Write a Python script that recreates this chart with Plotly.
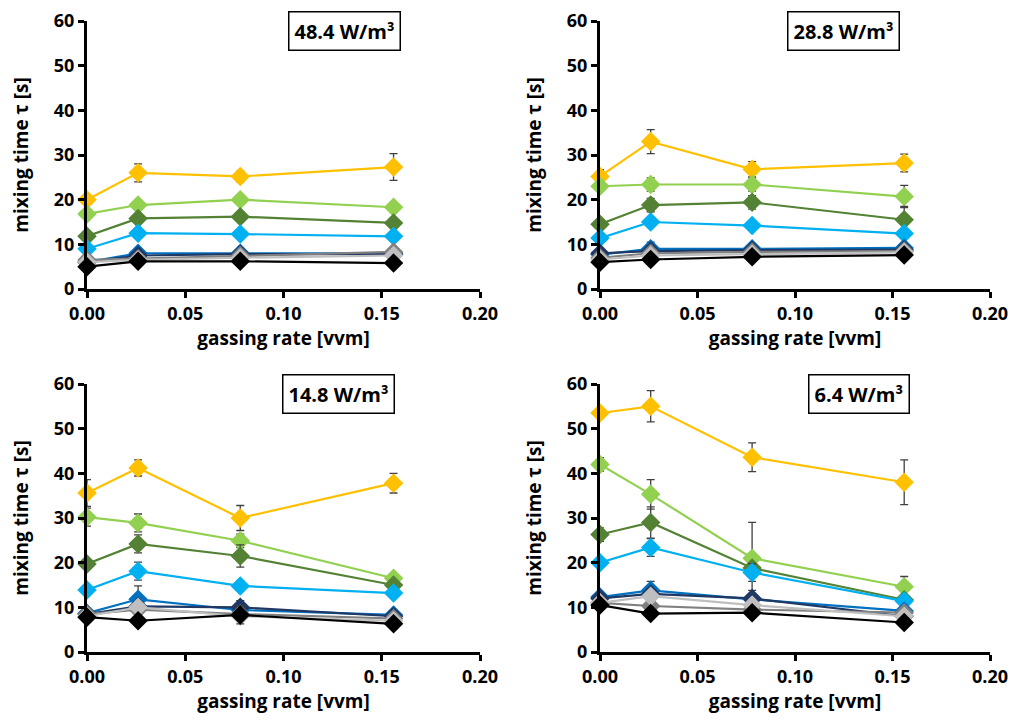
import plotly.graph_objects as go

gas = [0.0, 0.026, 0.078, 0.156]
x_ticks = [0.00, 0.05, 0.10, 0.15, 0.20]
x_ticklabels = ["0.00", "0.05", "0.10", "0.15", "0.20"]
y_ticks = [0, 10, 20, 30, 40, 50, 60]

panel_titles = ["48.4 W/m³", "28.8 W/m³", "14.8 W/m³", "6.4 W/m³"]

series_names = ["s1", "s2", "s3", "s4", "s5", "s6", "s7", "s8", "s9"]
colors = ["#FFC000", "#92D050", "#548235", "#00B0F0", "#0070C0",
          "#1F3864", "#808080", "#BFBFBF", "#000000"]

# panel 1: 48.4 W/m3
p1 = [
    [20.0, 26.0, 25.2, 27.3],
    [16.8, 18.8, 20.0, 18.3],
    [11.8, 15.8, 16.2, 14.8],
    [9.0, 12.5, 12.3, 11.8],
    [6.0, 8.0, 8.0, 8.0],
    [6.0, 7.5, 7.8, 7.8],
    [6.5, 6.8, 7.5, 8.3],
    [6.0, 6.5, 7.0, 7.5],
    [5.0, 6.2, 6.2, 5.8],
]
p1_err = [
    [0.8, 2.0, 1.2, 3.0],
    [0.8, 0.8, 0.8, 1.0],
    [0.6, 0.8, 0.8, 0.8],
    [0.5, 0.6, 0.6, 0.6],
    [0.4, 0.5, 0.5, 0.5],
    [0.4, 0.4, 0.4, 0.4],
    [0.4, 0.4, 0.4, 0.4],
    [0.3, 0.3, 0.3, 0.3],
    [0.3, 0.3, 0.3, 0.3],
]
# panel 2: 28.8 W/m3
p2 = [
    [25.2, 33.0, 26.8, 28.2],
    [23.0, 23.4, 23.4, 20.7],
    [14.5, 18.8, 19.4, 15.5],
    [11.4, 15.0, 14.2, 12.4],
    [7.7, 9.0, 9.0, 9.2],
    [8.0, 8.5, 8.7, 8.8],
    [7.0, 8.0, 8.3, 8.5],
    [6.6, 7.5, 7.8, 8.2],
    [6.0, 6.6, 7.2, 7.6],
]
p2_err = [
    [1.5, 2.7, 1.7, 2.0],
    [1.0, 1.5, 1.5, 2.5],
    [0.8, 1.5, 1.5, 3.0],
    [0.6, 0.8, 0.8, 0.8],
    [0.5, 1.5, 0.8, 0.6],
    [0.4, 0.5, 0.5, 0.5],
    [0.4, 0.5, 0.5, 0.5],
    [0.3, 0.4, 0.4, 0.4],
    [0.3, 0.3, 0.3, 0.3],
]
# panel 3: 14.8 W/m3
p3 = [
    [35.6, 41.2, 30.0, 37.8],
    [30.2, 28.9, 24.9, 16.5],
    [19.7, 24.2, 21.5, 15.0],
    [13.9, 18.1, 14.8, 13.2],
    [8.7, 11.8, 9.4, 8.3],
    [8.5, 10.2, 10.0, 8.0],
    [8.5, 9.5, 8.5, 7.5],
    [8.0, 10.0, 8.0, 7.0],
    [7.8, 7.0, 8.3, 6.3],
]
p3_err = [
    [3.0, 1.8, 2.8, 2.2],
    [2.0, 2.0, 1.5, 1.0],
    [1.0, 2.0, 2.5, 1.0],
    [0.8, 2.0, 1.0, 0.8],
    [0.6, 3.0, 1.0, 0.6],
    [0.5, 1.0, 1.5, 0.5],
    [0.5, 1.0, 1.5, 0.5],
    [0.5, 1.0, 1.0, 0.5],
    [0.4, 0.5, 2.0, 0.4],
]
# panel 4: 6.4 W/m3
p4 = [
    [53.5, 55.0, 43.6, 38.0],
    [42.0, 35.3, 21.0, 14.6],
    [26.3, 29.0, 18.8, 11.7],
    [20.0, 23.4, 17.8, 11.4],
    [12.3, 13.8, 11.8, 9.2],
    [12.0, 13.0, 12.0, 8.0],
    [11.0, 10.3, 9.5, 8.8],
    [11.0, 12.5, 10.5, 8.0],
    [10.5, 8.6, 8.8, 6.6],
]
p4_err = [
    [1.0, 3.5, 3.2, 5.0],
    [1.5, 3.3, 8.0, 2.3],
    [1.5, 3.5, 1.0, 0.8],
    [0.8, 2.0, 2.0, 0.8],
    [0.6, 2.0, 2.0, 0.6],
    [0.5, 1.0, 1.0, 0.5],
    [0.5, 1.0, 1.0, 0.5],
    [0.5, 1.0, 1.0, 0.5],
    [0.5, 0.5, 0.5, 0.5],
]

panels = [(p1, p1_err), (p2, p2_err), (p3, p3_err), (p4, p4_err)]

W, H = 1015, 721
x_doms = [[87 / W, 480 / W], [600 / W, 990 / W]]
y_doms = [[(H - 289) / H, (H - 21) / H], [(H - 652) / H, (H - 384) / H]]

FONT = "Open Sans"
fig = go.Figure()

for pi, (vals, errs) in enumerate(panels):
    r, c = divmod(pi, 2)
    suffix = "" if pi == 0 else str(pi + 1)
    for si in range(len(series_names)):
        fig.add_trace(go.Scatter(
            x=gas, y=vals[si], mode="lines+markers",
            name=series_names[si], showlegend=False,
            line=dict(color=colors[si], width=2.2),
            marker=dict(symbol="diamond", size=15, color=colors[si]),
            error_y=dict(type="data", array=errs[si], color="#404040",
                         thickness=1.3, width=4),
            cliponaxis=False,
            xaxis="x" + suffix, yaxis="y" + suffix,
        ))
    xa = dict(
        domain=x_doms[c], range=[0, 0.2], anchor="y" + suffix,
        tickvals=x_ticks, ticktext=x_ticklabels,
        showline=True, linecolor="black", linewidth=3,
        ticks="outside", ticklen=6, tickwidth=3, tickcolor="black",
        showgrid=False, zeroline=False,
        tickfont=dict(family=FONT, size=18, color="black", weight="bold"),
        title=dict(text="gassing rate [vvm]", standoff=8,
                   font=dict(family=FONT, size=19, color="black", weight="bold")),
        automargin=False,
    )
    ya = dict(
        domain=y_doms[r], range=[0, 60], anchor="x" + suffix,
        tickvals=y_ticks,
        showline=True, linecolor="black", linewidth=3,
        ticks="outside", ticklen=6, tickwidth=3, tickcolor="black",
        showgrid=False, zeroline=False,
        tickfont=dict(family=FONT, size=18, color="black", weight="bold"),
        title=dict(text="mixing time τ [s]", standoff=21,
                   font=dict(family=FONT, size=19, color="black", weight="bold")),
        automargin=False,
    )
    fig.layout["xaxis" + suffix] = xa
    fig.layout["yaxis" + suffix] = ya

    # panel label box
    box_x = [0.131, 0.125, 0.128, 0.133][pi]
    fig.add_annotation(
        x=box_x, y=57.8, xref="x" + suffix, yref="y" + suffix,
        text=panel_titles[pi], showarrow=False,
        font=dict(family=FONT, size=20, color="black", weight="bold"),
        bordercolor="black", borderwidth=1.5, borderpad=5, bgcolor="white",
    )

fig.update_layout(
    width=W, height=H,
    margin=dict(l=0, r=0, t=0, b=0),
    paper_bgcolor="white", plot_bgcolor="white",
    showlegend=False,
)

fig.write_html("out.html")
